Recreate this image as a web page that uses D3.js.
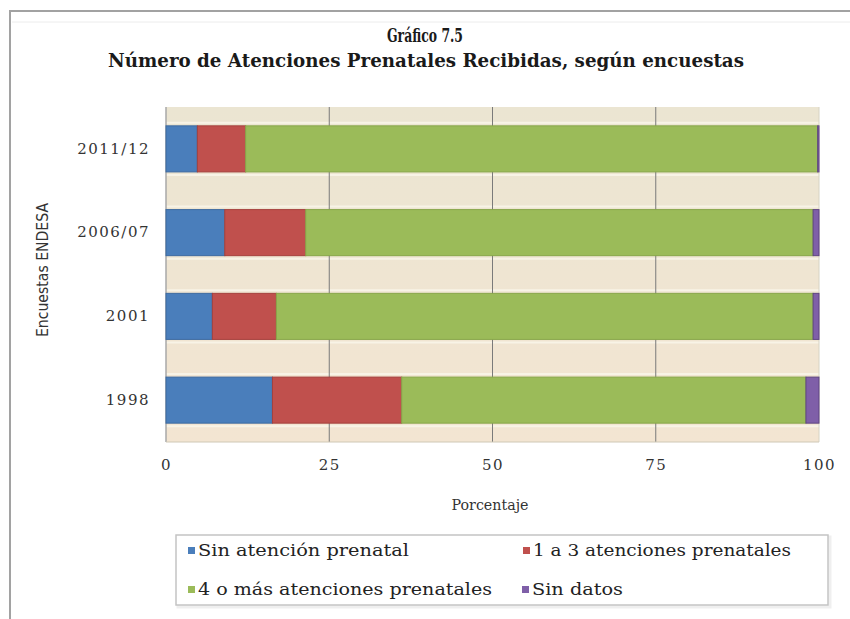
<!DOCTYPE html>
<html><head><meta charset="utf-8">
<script src="https://cdn.jsdelivr.net/npm/d3@7/dist/d3.min.js"></script>
<style>
body{margin:0;background:#fff;}
svg{display:block;}
</style></head>
<body>
<svg id="c" width="850" height="619"></svg>
<script>
const categories = ["2011/12", "2006/07", "2001", "1998"];
const seriesNames = ["Sin atención prenatal", "1 a 3 atenciones prenatales", "4 o más atenciones prenatales", "Sin datos"];
const sinAtencion = [4.8, 9.0, 7.1, 16.3];
const unoATres = [7.4, 12.4, 9.8, 19.8];
const cuatroOMas = [87.6, 77.7, 82.2, 61.9];
const sinDatos = [0.2, 0.9, 0.9, 2.0];
const xTicks = [0, 25, 50, 75, 100];
const colors = ["#4a7ebb", "#c0504d", "#9bbb59", "#7f5fa8"];
const strokes = ["#3d6aa0", "#a5403d", "#88a64a", "#5e4580"];

const svg = d3.select("#c");
const x = d3.scaleLinear().domain([0,100]).range([166, 819]);
const y = d3.scaleBand().domain(categories).range([107, 442]).paddingInner(0.45).paddingOuter(0.225);

// outer frame
svg.append("path").attr("d","M10,619 L10,11 L850,11").attr("fill","none").attr("stroke","#a2a2a2").attr("stroke-width",2);
svg.append("line").attr("x1",12).attr("x2",850).attr("y1",22).attr("y2",22).attr("stroke","#ececec").attr("stroke-width",1);

// title
const serif = "'DejaVu Serif', 'Liberation Serif', serif";
svg.append("text").attr("x",425).attr("y",42).attr("text-anchor","middle")
  .attr("font-family",serif).attr("font-weight","bold").attr("font-size",18).attr("fill","#1a1a1a")
  .attr("textLength",76).attr("lengthAdjust","spacingAndGlyphs").text("Gráfico 7.5");
svg.append("text").attr("x",426).attr("y",67).attr("text-anchor","middle")
  .attr("font-family",serif).attr("font-weight","bold").attr("font-size",18).attr("fill","#1a1a1a")
  .attr("textLength",636).attr("lengthAdjust","spacingAndGlyphs").text("Número de Atenciones Prenatales Recibidas, según encuestas");

// plot background
const defs = svg.append("defs");
const grad = defs.append("linearGradient").attr("id","bg").attr("x1",0).attr("x2",0).attr("y1",0).attr("y2",1);
grad.append("stop").attr("offset","0%").attr("stop-color","#ebe5d2");
grad.append("stop").attr("offset","100%").attr("stop-color","#f3e5d2");
svg.append("rect").attr("x",x(0)).attr("y",107).attr("width",x(100)-x(0)).attr("height",335).attr("fill","url(#bg)");

// light stripes around each bar band
const g = svg.append("g");
categories.forEach(c=>{
  const y0 = y(c), y1 = y(c)+y.bandwidth();
  [y0-3, y1+3].forEach(yy=>{
    g.append("line").attr("x1",x(0)).attr("x2",x(100)).attr("y1",yy).attr("y2",yy)
      .attr("stroke","#f8f3e6").attr("stroke-width",2);
  });
});

// vertical gridlines
svg.append("g").selectAll("line").data(xTicks.filter(d=>d>0 && d<100)).join("line")
  .attr("x1",d=>x(d)).attr("x2",d=>x(d)).attr("y1",107).attr("y2",442)
  .attr("stroke","#7a7a7a").attr("stroke-width",1);
svg.append("line").attr("x1",x(100)).attr("x2",x(100)).attr("y1",107).attr("y2",442).attr("stroke","#d6d3c4").attr("stroke-width",1);
svg.append("line").attr("x1",x(0)).attr("x2",x(0)).attr("y1",107).attr("y2",442).attr("stroke","#a8a8a8").attr("stroke-width",1.5);
svg.append("line").attr("x1",x(0)).attr("x2",x(100)).attr("y1",442).attr("y2",442).attr("stroke","#cfc8b6").attr("stroke-width",1);

// stacked bars
const table = categories.map((c,i)=>({cat:c, s0:sinAtencion[i], s1:unoATres[i], s2:cuatroOMas[i], s3:sinDatos[i]}));
const stack = d3.stack().keys(["s0","s1","s2","s3"]);
const stacked = stack(table);
svg.append("g").selectAll("g").data(stacked).join("g")
  .attr("fill",(d,i)=>colors[i]).attr("stroke",(d,i)=>strokes[i]).attr("stroke-width",1)
  .selectAll("rect").data(d=>d).join("rect")
  .attr("x",d=>x(d[0])).attr("width",d=>Math.max(0,x(d[1])-x(d[0])))
  .attr("y",d=>y(d.data.cat)).attr("height",y.bandwidth());

// axes labels
const xAxis = svg.append("g").attr("transform","translate(0,442)")
  .call(d3.axisBottom(x).tickValues(xTicks).tickSize(0).tickPadding(17));
xAxis.select(".domain").remove();
xAxis.selectAll("text").attr("font-family",serif).attr("font-size",15).attr("fill","#333").attr("letter-spacing","1.5px");

const yAxis = svg.append("g").attr("transform","translate(166,0)")
  .call(d3.axisLeft(y).tickSize(0).tickPadding(16));
yAxis.select(".domain").remove();
yAxis.selectAll("text").attr("font-family",serif).attr("font-size",15).attr("fill","#333").attr("letter-spacing","1.5px");

svg.append("text").attr("x",490).attr("y",510).attr("text-anchor","middle")
  .attr("font-family",serif).attr("font-size",14).attr("fill","#333")
  .attr("textLength",77).attr("lengthAdjust","spacingAndGlyphs").text("Porcentaje");

svg.append("text").attr("transform","translate(48,270) rotate(-90)").attr("text-anchor","middle")
  .attr("font-family","'Liberation Sans Narrow','DejaVu Sans Condensed',sans-serif").attr("font-size",16).attr("fill","#333")
  .attr("textLength",134).attr("lengthAdjust","spacingAndGlyphs").text("Encuestas ENDESA");

// legend
svg.append("rect").attr("x",178).attr("y",537).attr("width",652).attr("height",70).attr("fill","none").attr("stroke","#efefef").attr("stroke-width",3);
svg.append("rect").attr("x",176).attr("y",535).attr("width",652).attr("height",70).attr("fill","#fff").attr("stroke","#c4c4c4").attr("stroke-width",1.5);
const legPos = [[188,551],[523,551],[188,590],[522,590]];
const legLen = [211, 258, 294, 91];
const leg = svg.append("g").selectAll("g").data(seriesNames).join("g")
  .attr("transform",(d,i)=>`translate(${legPos[i][0]},${legPos[i][1]})`);
leg.append("rect").attr("x",0).attr("y",-4).attr("width",7).attr("height",7).attr("fill",(d,i)=>colors[i]);
leg.append("text").attr("x",10).attr("y",5).attr("font-family",serif).attr("font-size",16).attr("fill","#222")
  .attr("textLength",(d,i)=>legLen[i]).attr("lengthAdjust","spacingAndGlyphs").text(d=>d);
</script>
</body></html>
